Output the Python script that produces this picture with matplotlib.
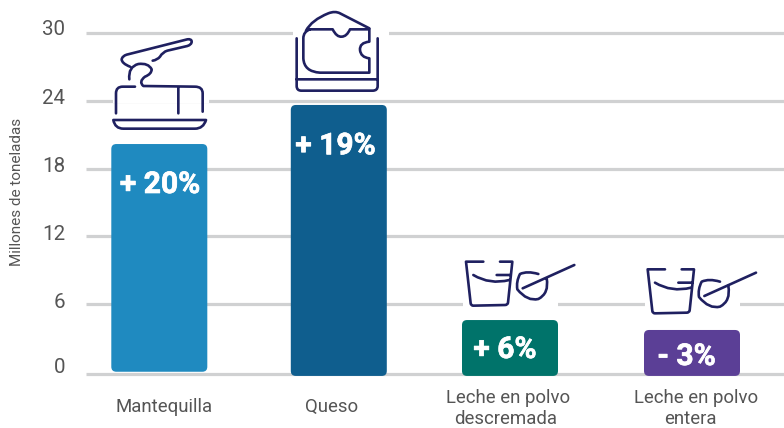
import re
import matplotlib
matplotlib.use("Agg")
import matplotlib.pyplot as plt
import matplotlib.patheffects as pe
from matplotlib.patches import FancyBboxPatch, PathPatch, Rectangle
from matplotlib.path import Path

categories = [["Mantequilla"], ["Queso"], ["Leche en polvo", "descremada"], ["Leche en polvo", "entera"]]
values = [20.17, 23.63, 4.58, 3.70]
changes = ["+ 20%", "+ 19%", "+ 6%", "- 3%"]
colors = ["#1F8AC0", "#0F5E8E", "#00736A", "#5B3F96"]
yticks = [0, 6, 12, 18, 24, 30]

W, H = 784, 428
PX_PER_UNIT = 11.29
Y0 = 371.75
bar_x = [159.3, 338.8, 510, 692]
bar_w = 96
bar_floor = [0.0, -0.37, -0.37, -0.37]
tick_y_px = [365.7, 300.7, 232, 165, 96, 27.5]
change_xy_px = [(160, 182), (335.5, 143.3), (505, 347), (686.5, 354)]
cat_xy_px = [[(164, 406.5)], [(332, 406.5)], [(508.5, 398), (505.8, 419)], [(696.5, 398), (690, 419)]]
GRID = "#D0D1D2"
INK = "#1F2060"
TEXT = "#555555"

plt.rcParams["font.family"] = ["Roboto", "DejaVu Sans"]
fig = plt.figure(figsize=(W / 100, H / 100), dpi=100)
fig.patch.set_facecolor("white")

ax = fig.add_axes([0, 0, 1, 1])
ax.set_xlim(0, W)
ax.set_ylim((Y0 - H) / PX_PER_UNIT, Y0 / PX_PER_UNIT)
ax.axis("off")

baseline_offset = -0.2
for t in yticks:
    yy = t if t else baseline_offset
    ax.plot([86, W], [yy, yy], color=GRID, lw=2.3, solid_capstyle="butt", zorder=1)

for x, v, c, f in zip(bar_x, values, colors, bar_floor):
    ax.add_patch(FancyBboxPatch((x - bar_w / 2, f), bar_w, v - f,
                                boxstyle="round,pad=0,rounding_size=5",
                                mutation_aspect=1 / PX_PER_UNIT,
                                fc=c, ec="none", zorder=2))

ov = fig.add_axes([0, 0, 1, 1])
ov.set_xlim(0, W)
ov.set_ylim(H, 0)
ov.axis("off")
ov.patch.set_alpha(0)

for (x0, x1, yy) in [(113, 209, 100), (293, 389, 33), (463, 558, 304), (645, 740, 304)]:
    ov.add_patch(Rectangle((x0, yy - 3), x1 - x0, 6, fc="white", ec="none", zorder=1))


def svg(d, ox, oy):
    toks = re.findall(r"[MLQZ]|-?\d+\.?\d*", d)
    verts, codes = [], []
    i = 0
    while i < len(toks):
        k = toks[i]
        i += 1
        n = {"M": 1, "L": 1, "Q": 2, "Z": 0}[k]
        if k == "Z":
            verts.append((0, 0))
            codes.append(Path.CLOSEPOLY)
            continue
        for j in range(n):
            verts.append((ox + float(toks[i]) / 3, oy + float(toks[i + 1]) / 3))
            i += 2
            codes.append({"M": Path.MOVETO, "L": Path.LINETO, "Q": Path.CURVE3}[k])
    return Path(verts, codes)


def icon(d, ox, oy):
    ov.add_patch(PathPatch(svg(d, ox, oy), fc="none", ec=INK, lw=1.9,
                           capstyle="round", joinstyle="round", zorder=3))


butter = ("M150 200 Q125 190 125 178 Q127 168 140 164 L322 118 Q335 116 335 125 Q335 134 322 138 "
          "L262 152 Q248 156 240 170 Q232 180 218 182 "
          "M148 238 Q144 200 175 192 Q205 188 215 208 Q215 222 195 230 Q175 245 190 258 L345 260 "
          "Q368 260 368 280 L368 335 "
          "M165 260 L128 260 Q108 260 108 280 L108 340 M295 264 L295 340 "
          "M100 360 L378 360 Q370 386 345 386 L130 386 Q105 386 100 360 Z")
cheese = ("M650 115 L650 258 Q650 272 664 272 L878 272 Q893 272 893 258 L893 115 M650 238 L893 238 "
          "M690 88 L758 88 Q770 112 785 110 Q800 110 810 88 L868 88 L868 125 Q838 128 840 150 "
          "Q842 172 868 175 L868 218 L720 218 Q672 215 670 175 L670 115 Q670 95 690 88 "
          "M678 92 Q695 60 745 40 Q765 32 780 40 L868 85")
cup = ("M130 35 L78 35 L92 160 Q93 167 100 167 L195 165 Q203 165 204 158 L217 35 L180 35 "
       "M100 75 Q150 105 208 90 M170 75 L212 75 "
       "M403 45 L248 115 M295 72 Q262 62 240 72 Q228 95 232 118 Q262 155 295 147 Q328 130 320 85")

icon(butter, 80, 0)
icon(cheese, 80, 0)
icon(cup, 440, 250)
icon(cup, 440 + 545 / 3, 250 + 23 / 3)

for t, yp in zip(yticks, tick_y_px):
    ov.text(65, yp, str(t), ha="right", va="center_baseline", fontsize=14.8, color=TEXT)

ov.text(17.5, 191.5, "Millones de toneladas", rotation=90, ha="center", va="center",
        fontsize=11.0, color=TEXT)

for s, (xp, yp) in zip(changes, change_xy_px):
    ov.text(xp, yp, s, ha="center", va="center_baseline", fontsize=21.6, fontweight="bold",
            color="white", zorder=4,
            path_effects=[pe.withStroke(linewidth=0.5, foreground="white")])

for lines, xys in zip(categories, cat_xy_px):
    for s, (xp, yp) in zip(lines, xys):
        ov.text(xp, yp, s, ha="center", va="center", fontsize=13.4, color=TEXT)

fig.savefig("out.png", dpi=100)
